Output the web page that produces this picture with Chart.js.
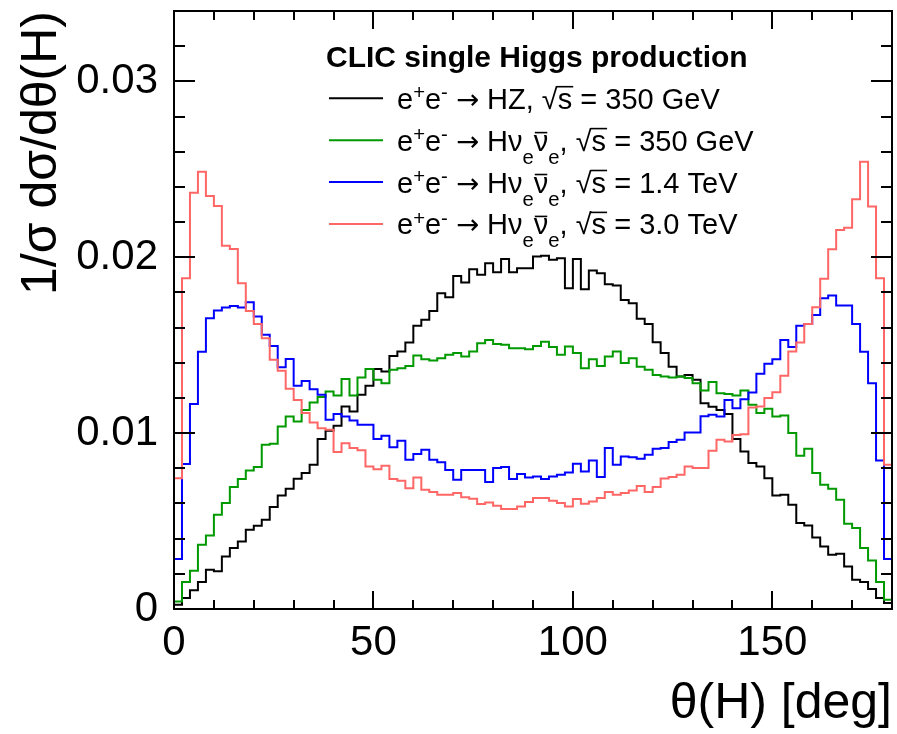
<!DOCTYPE html>
<html>
<head>
<meta charset="utf-8">
<script src="https://cdn.jsdelivr.net/npm/chart.js@4.4.0/dist/chart.umd.min.js"></script>
<style>
  html, body { margin: 0; padding: 0; background: #ffffff; }
  #wrap { width: 897px; height: 734px; position: relative; }
</style>
</head>
<body>
<div id="wrap"><canvas id="c"></canvas></div>
<script>
// ---------------- data ----------------
const thetaMin = 0;          // deg
const thetaMax = 180;        // deg
const binWidth = 2;          // deg per bin (90 bins)

// e+e- -> HZ, sqrt(s) = 350 GeV
const hzValues350 = [
  0.00024, 0.00062, 0.00106, 0.00153, 0.00223, 0.00214, 0.00299, 0.00347, 0.00384, 0.00451,
  0.00473, 0.00507, 0.00580, 0.00646, 0.00684, 0.00740, 0.00773, 0.00820, 0.00966, 0.01013,
  0.01042, 0.01151, 0.01123, 0.01218, 0.01269, 0.01365, 0.01350, 0.01439, 0.01464, 0.01515,
  0.01610, 0.01644, 0.01695, 0.01795, 0.01773, 0.01894, 0.01856, 0.01932, 0.01900, 0.01966,
  0.01915, 0.01990, 0.01915, 0.01938, 0.01938, 0.02004, 0.02009, 0.01985, 0.01994, 0.01824,
  0.01990, 0.01818, 0.01924, 0.01909, 0.01847, 0.01839, 0.01757, 0.01739, 0.01650, 0.01621,
  0.01517, 0.01455, 0.01378, 0.01322, 0.01331, 0.01303, 0.01170, 0.01150, 0.01132, 0.01108,
  0.00966, 0.00895, 0.00830, 0.00810, 0.00744, 0.00646, 0.00649, 0.00593, 0.00489, 0.00475,
  0.00407, 0.00356, 0.00309, 0.00314, 0.00242, 0.00166, 0.00153, 0.00114, 0.00062, 0.00034
];

// e+e- -> H nu nubar, sqrt(s) = 350 GeV
const hnnValues350 = [
  0.00043, 0.00153, 0.00218, 0.00365, 0.00418, 0.00536, 0.00602, 0.00693, 0.00739, 0.00788,
  0.00807, 0.00934, 0.00939, 0.01038, 0.01094, 0.01066, 0.01132, 0.01174, 0.01205, 0.01236,
  0.01214, 0.01307, 0.01214, 0.01316, 0.01364, 0.01303, 0.01284, 0.01360, 0.01369, 0.01382,
  0.01441, 0.01420, 0.01413, 0.01426, 0.01445, 0.01455, 0.01435, 0.01464, 0.01511, 0.01530,
  0.01507, 0.01502, 0.01483, 0.01483, 0.01477, 0.01496, 0.01520, 0.01489, 0.01445, 0.01492,
  0.01455, 0.01369, 0.01420, 0.01382, 0.01435, 0.01464, 0.01398, 0.01426, 0.01378, 0.01360,
  0.01331, 0.01322, 0.01316, 0.01322, 0.01313, 0.01284, 0.01242, 0.01290, 0.01227, 0.01223,
  0.01214, 0.01242, 0.01161, 0.01114, 0.01138, 0.01094, 0.01100, 0.01000, 0.00871, 0.00911,
  0.00773, 0.00706, 0.00684, 0.00621, 0.00485, 0.00460, 0.00347, 0.00276, 0.00153, 0.00053
];

// e+e- -> H nu nubar, sqrt(s) = 1.4 TeV
const hnnValues1400 = [
  0.00284, 0.00824, 0.01166, 0.01462, 0.01653, 0.01697, 0.01714, 0.01723, 0.01714, 0.01744,
  0.01663, 0.01559, 0.01496, 0.01375, 0.01422, 0.01269, 0.01297, 0.01250, 0.01218, 0.01076,
  0.01108, 0.01094, 0.01072, 0.01047, 0.01047, 0.00966, 0.00985, 0.00920, 0.00956, 0.00848,
  0.00881, 0.00905, 0.00848, 0.00835, 0.00791, 0.00735, 0.00791, 0.00791, 0.00791, 0.00722,
  0.00801, 0.00807, 0.00739, 0.00767, 0.00748, 0.00753, 0.00739, 0.00753, 0.00763, 0.00776,
  0.00826, 0.00782, 0.00844, 0.00750, 0.00915, 0.00820, 0.00867, 0.00863, 0.00854, 0.00877,
  0.00911, 0.00915, 0.00949, 0.00962, 0.01003, 0.01003, 0.01096, 0.01104, 0.01094, 0.01189,
  0.01142, 0.01193, 0.01231, 0.01337, 0.01394, 0.01420, 0.01530, 0.01489, 0.01611, 0.01621,
  0.01672, 0.01767, 0.01782, 0.01725, 0.01725, 0.01621, 0.01462, 0.01284, 0.00844, 0.00284
];

// e+e- -> H nu nubar, sqrt(s) = 3.0 TeV
const hnnValues3000 = [
  0.00744, 0.01880, 0.02367, 0.02486, 0.02348, 0.02291, 0.02066, 0.02047, 0.01852, 0.01695,
  0.01621, 0.01540, 0.01417, 0.01354, 0.01252, 0.01189, 0.01114, 0.01060, 0.01028, 0.01019,
  0.00892, 0.00943, 0.00915, 0.00903, 0.00810, 0.00795, 0.00814, 0.00739, 0.00729, 0.00687,
  0.00748, 0.00678, 0.00665, 0.00649, 0.00649, 0.00659, 0.00636, 0.00627, 0.00597, 0.00606,
  0.00587, 0.00568, 0.00568, 0.00583, 0.00608, 0.00631, 0.00631, 0.00615, 0.00602, 0.00583,
  0.00625, 0.00598, 0.00611, 0.00631, 0.00665, 0.00649, 0.00659, 0.00674, 0.00700, 0.00665,
  0.00693, 0.00742, 0.00750, 0.00763, 0.00810, 0.00801, 0.00801, 0.00900, 0.00962, 0.00952,
  0.00990, 0.00994, 0.01146, 0.01151, 0.01199, 0.01233, 0.01326, 0.01464, 0.01515, 0.01621,
  0.01716, 0.01877, 0.02045, 0.02155, 0.02168, 0.02330, 0.02543, 0.02288, 0.01881, 0.00820
];

const seriesLabels = [
  'e^{+}e^{-} #rightarrow HZ, #sqrt{s} = 350 GeV',
  'e^{+}e^{-} #rightarrow H#nu_{e}#bar{#nu}_{e}, #sqrt{s} = 350 GeV',
  'e^{+}e^{-} #rightarrow H#nu_{e}#bar{#nu}_{e}, #sqrt{s} = 1.4 TeV',
  'e^{+}e^{-} #rightarrow H#nu_{e}#bar{#nu}_{e}, #sqrt{s} = 3.0 TeV'
];
const seriesColors = ['#000000', '#009a00', '#0000ff', '#ff6666'];
const legendTitle = 'CLIC single Higgs production';

const xTickValues = [0, 50, 100, 150];
const yTickValues = [0, 0.01, 0.02, 0.03];
const yTickLabels = ['0', '0.01', '0.02', '0.03'];
const yMax = 0.034;
const xMinorStep = 10;
const yMinorStep = 0.002;
const xTitle = 'θ(H) [deg]';
const yTitle = '1/σ dσ/dθ(H)';

// ---------------- helpers ----------------
const FONT = "'Liberation Sans', Arial, Helvetica, sans-serif";
const ARROW_FONT = "'DejaVu Sans', 'Liberation Sans', sans-serif";

function histPoints(vals) {
  // ROOT-style histogram outline: rises from 0 at the first edge, falls to 0 at the last edge
  const pts = [{ x: thetaMin, y: 0 }];
  vals.forEach((v, i) => pts.push({ x: thetaMin + i * binWidth, y: v }));
  pts.push({ x: thetaMin + vals.length * binWidth, y: 0 });
  return pts;
}

function parseLatex(str) {
  str = str.replace(/#nu/g, '\u03bd');
  const segs = [];
  let buf = '';
  let i = 0;
  const flush = () => { if (buf) { segs.push({ text: buf, mode: 'n', bar: false }); buf = ''; } };
  const grab = (start) => { const j = str.indexOf('}', start); return [str.slice(start, j), j + 1]; };
  while (i < str.length) {
    if (str.startsWith('^{', i)) { flush(); const [t, n] = grab(i + 2); segs.push({ text: t, mode: 'sup', bar: false }); i = n; }
    else if (str.startsWith('_{', i)) { flush(); const [t, n] = grab(i + 2); segs.push({ text: t, mode: 'sub', bar: false }); i = n; }
    else if (str.startsWith('#bar{', i)) { flush(); const [t, n] = grab(i + 5); segs.push({ text: t, mode: 'n', bar: true }); i = n; }
    else if (str.startsWith('#sqrt{', i)) { flush(); const [t, n] = grab(i + 6); segs.push({ text: '\u221a', mode: 'n', bar: false, radical: true }); segs.push({ text: t, mode: 'n', bar: true, underRad: true }); i = n; }
    else if (str.startsWith('#rightarrow', i)) { flush(); segs.push({ text: '\u2192', mode: 'n', bar: false, arrow: true }); i += 11; }
    else { buf += str[i]; i++; }
  }
  flush();
  return segs;
}

function drawLatex(ctx, str, x, y, fs) {
  const segs = parseLatex(str);
  let cx = x;
  let radTop = null;
  ctx.textBaseline = 'alphabetic';
  ctx.textAlign = 'left';
  for (const s of segs) {
    const size = s.mode === 'n' ? fs : fs * 0.7;
    const dy = s.mode === 'sup' ? -0.33 * fs : (s.mode === 'sub' ? 0.45 * fs : 0);
    ctx.font = s.arrow ? `${fs * 0.95}px ${ARROW_FONT}` : `${size}px ${FONT}`;
    ctx.fillText(s.text, cx, y + dy);
    const m = ctx.measureText(s.text);
    const w = m.width;
    if (s.radical) radTop = y - m.actualBoundingBoxAscent;
    if (s.bar) {
      const by = s.underRad && radTop !== null ? radTop + 1 : y + dy - 0.62 * fs;
      ctx.save();
      ctx.lineWidth = 1.6;
      ctx.strokeStyle = ctx.fillStyle;
      ctx.beginPath();
      ctx.moveTo(cx + (s.underRad ? -1 : 1), by);
      ctx.lineTo(cx + w + (s.underRad ? 1 : -1), by);
      ctx.stroke();
      ctx.restore();
    }
    cx += w;
  }
}

// ---------------- plugin: frame, inward ticks, legend ----------------
const rootStyle = {
  id: 'rootStyle',
  afterDraw(chart) {
    const { ctx, chartArea: a, scales: { x, y } } = chart;
    ctx.save();
    ctx.strokeStyle = '#000';
    ctx.lineWidth = 2;
    ctx.strokeRect(a.left, a.top, a.right - a.left, a.bottom - a.top);

    ctx.beginPath();
    // x ticks (bottom and top, pointing inwards)
    for (let v = thetaMin; v <= thetaMax + 1e-9; v += xMinorStep) {
      const px = Math.round(x.getPixelForValue(v));
      const major = xTickValues.some(t => Math.abs(t - v) < 1e-9);
      const len = major ? 18 : 9;
      ctx.moveTo(px, a.bottom); ctx.lineTo(px, a.bottom - len);
      ctx.moveTo(px, a.top); ctx.lineTo(px, a.top + len);
    }
    // y ticks (left and right, pointing inwards)
    for (let k = 0; k * yMinorStep <= yMax + 1e-12; k++) {
      const v = k * yMinorStep;
      const py = Math.round(y.getPixelForValue(v));
      const major = yTickValues.some(t => Math.abs(t - v) < 1e-9);
      const len = major ? 21 : 11;
      ctx.moveTo(a.left, py); ctx.lineTo(a.left + len, py);
      ctx.moveTo(a.right, py); ctx.lineTo(a.right - len, py);
    }
    ctx.stroke();

    // legend
    ctx.fillStyle = '#000';
    ctx.font = `bold 30px ${FONT}`;
    ctx.textBaseline = 'alphabetic';
    ctx.textAlign = 'left';
    ctx.fillText(legendTitle, a.left + 152, a.top + 56);
    chart.data.datasets.forEach((ds, i) => {
      const base = a.top + 97.7 + i * 41.9;
      const cy = base - 10.4;
      ctx.strokeStyle = ds.borderColor;
      ctx.lineWidth = 2;
      ctx.beginPath();
      ctx.moveTo(a.left + 155, cy);
      ctx.lineTo(a.left + 209, cy);
      ctx.stroke();
      ctx.fillStyle = '#000';
      drawLatex(ctx, ds.label, a.left + 223, base, 29);
    });
    ctx.restore();
  }
};

// ---------------- chart ----------------
const datasetValues = [hzValues350, hnnValues350, hnnValues1400, hnnValues3000];
const datasets = datasetValues.map((vals, i) => ({
  label: seriesLabels[i],
  data: histPoints(vals),
  borderColor: seriesColors[i],
  backgroundColor: seriesColors[i],
  borderWidth: 2,
  pointRadius: 0,
  pointHoverRadius: 0,
  stepped: 'before',
  fill: false,
  tension: 0,
  order: 3 - i
}));

new Chart(document.getElementById('c'), {
  type: 'line',
  data: { datasets },
  options: {
    responsive: true,
    maintainAspectRatio: false,
    animation: false,
    events: [],
    layout: { padding: { left: 0, right: 5, top: 11, bottom: 0 } },
    plugins: {
      legend: { display: false },
      tooltip: { enabled: false },
      title: { display: false }
    },
    scales: {
      x: {
        type: 'linear',
        min: thetaMin,
        max: thetaMax,
        afterFit: s => { s.height = 125; s.paddingLeft = 0; s.paddingRight = 0; },
        afterBuildTicks: s => { s.ticks = xTickValues.map(v => ({ value: v })); },
        ticks: {
          autoSkip: false,
          maxRotation: 0,
          padding: 9,
          color: '#000',
          font: { family: FONT, size: 42 },
          callback: v => String(v)
        },
        grid: { display: false, drawTicks: false },
        border: { display: false },
        title: {
          display: true,
          text: xTitle,
          align: 'end',
          color: '#000',
          font: { family: FONT, size: 50 },
          padding: { top: 0, bottom: 0 }
        }
      },
      y: {
        type: 'linear',
        min: 0,
        max: yMax,
        afterFit: s => { s.width = 174; s.paddingTop = 0; s.paddingBottom = 0; },
        afterBuildTicks: s => { s.ticks = yTickValues.map(v => ({ value: v })); },
        ticks: {
          autoSkip: false,
          padding: 16,
          color: '#000',
          font: { family: FONT, size: 42 },
          callback: (v) => yTickLabels[yTickValues.findIndex(t => Math.abs(t - v) < 1e-9)]
        },
        grid: { display: false, drawTicks: false },
        border: { display: false },
        title: {
          display: true,
          text: yTitle,
          align: 'end',
          color: '#000',
          font: { family: FONT, size: 50 },
          padding: { top: 12, bottom: 0 }
        }
      }
    }
  },
  plugins: [rootStyle]
});
</script>
</body>
</html>
